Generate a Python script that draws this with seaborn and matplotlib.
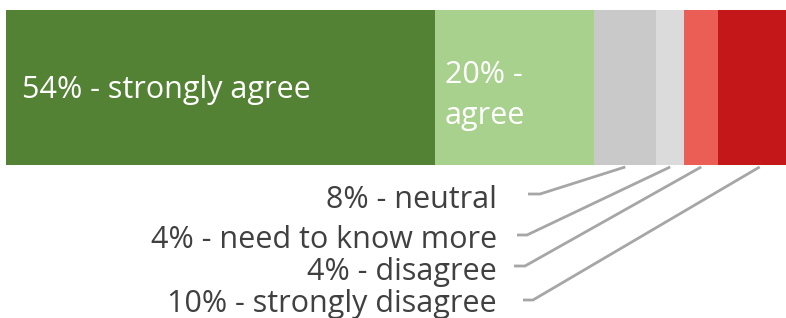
import numpy as np
import pandas as pd
import seaborn as sns
import matplotlib.pyplot as plt

# survey answers, left to right in the stacked bar
answers = ['strongly agree', 'agree', 'neutral', 'need to know more',
           'disagree', 'strongly disagree']
# segment widths (labels show the rounded numbers)
shares = [54, 20, 7.8, 3.5, 4.3, 10.4]
colors = ['#548235', '#A9D18E', '#C9C9C9', '#DBDBDB', '#EA5E56', '#C3171A']

# labels written inside the bar / below it with leader lines
inside_labels = ['54% - strongly agree', '20% -\nagree']
outside_labels = ['8% - neutral', '4% - need to know more',
                  '4% - disagree', '10% - strongly disagree']

W, H = 786, 318
FONT = 'Open Sans'
FS = 22

df = pd.DataFrame({'answer': answers, 'share': shares, 'color': colors})
df['end'] = df['share'].cumsum()
df['start'] = df['end'] - df['share']
df['mid'] = (df['start'] + df['end']) / 2

fig = plt.figure(figsize=(W / 100, H / 100), dpi=100)
ax = fig.add_axes([0, 0, 1, 1])

# stacked bar: draw cumulative totals from the longest to the shortest
for _, r in df.iloc[::-1].iterrows():
    sns.barplot(data=pd.DataFrame({'row': ['all'], 'end': [r['end']]}),
                x='end', y='row', orient='h', color=r['color'],
                saturation=1, width=0.8, linewidth=0, ax=ax)

# bar spans px 6 .. ~801 (cropped at the right edge)
px_per_unit = 795 / 100
ax.set_xlim(-6 / px_per_unit, (W - 6) / px_per_unit)
# bar top at px 10, height 155 px for width 0.8
unit_px = 155 / 0.8
top = -0.4 - 10 / unit_px
ax.set_ylim(top + H / unit_px, top)
ax.axis('off')


def px(x, y):
    """figure pixel (from top-left) -> data coordinates"""
    disp = fig.transFigure.transform((x / W, 1 - y / H))
    return ax.transData.inverted().transform(disp)


# text inside the bar
fig.text(22 / W, 1 - 98 / H, inside_labels[0], color='white', family=FONT,
         fontsize=FS, ha='left', va='baseline')
first, second = inside_labels[1].split('\n')
fig.text(445 / W, 1 - 83 / H, first, color='white', family=FONT,
         fontsize=FS, ha='left', va='baseline')
fig.text(445 / W, 1 - 124 / H, second, color='white', family=FONT,
         fontsize=FS, ha='left', va='baseline')

# outside labels with leader lines
baselines = [208, 248, 280, 312]
elbows = [(540, 194), (527, 235), (525, 266), (533, 300)]
ends = [528, 517, 514, 523]
bar_bottom = 0.4
for i, lab in enumerate(outside_labels):
    r = df.iloc[2 + i]
    fig.text(497 / W, 1 - baselines[i] / H, lab, color='#404040',
             family=FONT, fontsize=FS, ha='right', va='baseline')
    ex, ey = px(*elbows[i])
    tx, ty = px(ends[i], elbows[i][1])
    ax.plot([r['mid'], ex, tx], [bar_bottom + 0.01, ey, ty], color='#A6A6A6',
            lw=2, solid_capstyle='butt', clip_on=False)

fig.savefig('out.png', dpi=100)
